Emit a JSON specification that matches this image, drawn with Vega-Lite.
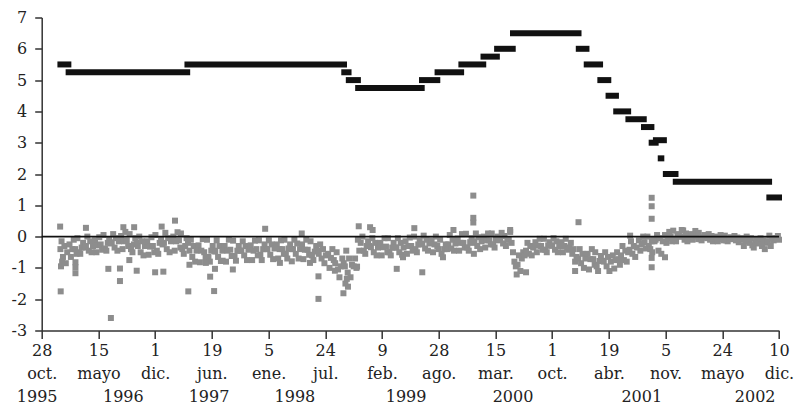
{
"$schema": "https://vega.github.io/schema/vega-lite/v6.json",
"width": 737.3,
"height": 313,
"autosize": {"type": "none"},
"padding": {"left": 41.7, "top": 17.5, "right": 19, "bottom": 82.5},
"config": {"view": {"stroke": null}, "font": "DejaVu Serif", "axisY": {"labelOverlap": false}, "axisX": {"labelOverlap": false}, "axis": {"labelOverlap": false}},
"datasets": {
"rate": [
{"start":"1996-01-02","end":"1996-01-30","rate":5.5},
{"start":"1996-01-31","end":"1997-03-24","rate":5.25},
{"start":"1997-03-25","end":"1998-09-28","rate":5.5},
{"start":"1998-09-29","end":"1998-10-14","rate":5.25},
{"start":"1998-10-15","end":"1998-11-16","rate":5.0},
{"start":"1998-11-17","end":"1999-06-29","rate":4.75},
{"start":"1999-06-30","end":"1999-08-23","rate":5.0},
{"start":"1999-08-24","end":"1999-11-15","rate":5.25},
{"start":"1999-11-16","end":"2000-02-01","rate":5.5},
{"start":"2000-02-02","end":"2000-03-20","rate":5.75},
{"start":"2000-03-21","end":"2000-05-15","rate":6.0},
{"start":"2000-05-16","end":"2001-01-02","rate":6.5},
{"start":"2001-01-03","end":"2001-01-30","rate":6.0},
{"start":"2001-01-31","end":"2001-03-19","rate":5.5},
{"start":"2001-03-20","end":"2001-04-17","rate":5.0},
{"start":"2001-04-18","end":"2001-05-14","rate":4.5},
{"start":"2001-05-15","end":"2001-06-26","rate":4.0},
{"start":"2001-06-27","end":"2001-08-20","rate":3.75},
{"start":"2001-08-21","end":"2001-09-16","rate":3.5},
{"start":"2001-09-17","end":"2001-10-01","rate":3.0},
{"start":"2001-10-02","end":"2001-10-30","rate":3.08},
{"start":"2001-10-19","end":"2001-10-21","rate":2.5},
{"start":"2001-11-06","end":"2001-12-10","rate":2.0},
{"start":"2001-12-11","end":"2002-11-05","rate":1.75},
{"start":"2002-11-06","end":"2002-12-10","rate":1.25}
],
"years": [
{"date":"1995-10-12","year":"1995"},
{"date":"1996-08-11","year":"1996"},
{"date":"1997-06-09","year":"1997"},
{"date":"1998-04-08","year":"1998"},
{"date":"1999-05-05","year":"1999"},
{"date":"2000-05-16","year":"2000"},
{"date":"2001-08-13","year":"2001"},
{"date":"2002-09-17","year":"2002"}
],
"obs": [
{"date":"1996-01-02","value":-0.4},{"date":"1996-01-06","value":-0.15},{"date":"1996-01-11","value":-0.65},{"date":"1996-01-16","value":-0.3},{"date":"1996-01-21","value":-0.85},{"date":"1996-01-26","value":-0.5},
{"date":"1996-02-03","value":-0.25},{"date":"1996-02-08","value":-0.65},{"date":"1996-02-13","value":-0.4},{"date":"1996-02-18","value":-0.1},{"date":"1996-02-23","value":-0.4},{"date":"1996-02-28","value":-0.55},
{"date":"1996-03-02","value":-0.05},{"date":"1996-03-07","value":-0.5},{"date":"1996-03-12","value":-0.55},{"date":"1996-03-17","value":-0.35},{"date":"1996-03-22","value":-0.2},{"date":"1996-03-27","value":-0.35},
{"date":"1996-04-01","value":-0.3},{"date":"1996-04-06","value":0},{"date":"1996-04-11","value":-0.45},{"date":"1996-04-16","value":-0.15},{"date":"1996-04-21","value":-0.5},{"date":"1996-04-26","value":-0.3},
{"date":"1996-05-03","value":-0.12},{"date":"1996-05-08","value":-0.5},{"date":"1996-05-13","value":-0.28},{"date":"1996-05-18","value":-0.02},{"date":"1996-05-23","value":-0.25},{"date":"1996-05-28","value":-0.42},
{"date":"1996-06-02","value":0.05},{"date":"1996-06-07","value":-0.38},{"date":"1996-06-12","value":-0.45},{"date":"1996-06-17","value":-0.2},{"date":"1996-06-22","value":-0.08},{"date":"1996-06-27","value":-0.22},
{"date":"1996-07-01","value":-0.18},{"date":"1996-07-06","value":0.08},{"date":"1996-07-11","value":-0.35},{"date":"1996-07-16","value":-0.05},{"date":"1996-07-21","value":-0.45},{"date":"1996-07-26","value":-0.15},
{"date":"1996-08-03","value":0.02},{"date":"1996-08-08","value":-0.4},{"date":"1996-08-13","value":-0.15},{"date":"1996-08-18","value":0.15},{"date":"1996-08-23","value":-0.12},{"date":"1996-08-28","value":-0.3},
{"date":"1996-09-02","value":0.08},{"date":"1996-09-07","value":-0.4},{"date":"1996-09-12","value":-0.5},{"date":"1996-09-17","value":-0.25},{"date":"1996-09-22","value":-0.05},{"date":"1996-09-27","value":-0.2},
{"date":"1996-10-01","value":-0.3},{"date":"1996-10-06","value":0},{"date":"1996-10-11","value":-0.5},{"date":"1996-10-16","value":-0.15},{"date":"1996-10-21","value":-0.6},{"date":"1996-10-26","value":-0.3},
{"date":"1996-11-03","value":-0.15},{"date":"1996-11-08","value":-0.58},{"date":"1996-11-13","value":-0.32},{"date":"1996-11-18","value":-0.02},{"date":"1996-11-23","value":-0.3},{"date":"1996-11-28","value":-0.5},
{"date":"1996-12-02","value":0.05},{"date":"1996-12-07","value":-0.45},{"date":"1996-12-12","value":-0.55},{"date":"1996-12-17","value":-0.2},{"date":"1996-12-22","value":-0.1},{"date":"1996-12-27","value":-0.25},
{"date":"1997-01-01","value":-0.2},{"date":"1997-01-06","value":0.12},{"date":"1997-01-11","value":-0.4},{"date":"1997-01-16","value":-0.05},{"date":"1997-01-21","value":-0.5},{"date":"1997-01-26","value":-0.15},
{"date":"1997-02-03","value":0},{"date":"1997-02-08","value":-0.45},{"date":"1997-02-13","value":-0.15},{"date":"1997-02-18","value":0.14},{"date":"1997-02-23","value":-0.12},{"date":"1997-02-28","value":-0.35},
{"date":"1997-03-02","value":0.1},{"date":"1997-03-07","value":-0.4},{"date":"1997-03-12","value":-0.55},{"date":"1997-03-17","value":-0.3},{"date":"1997-03-22","value":-0.05},{"date":"1997-03-27","value":-0.2},
{"date":"1997-04-01","value":-0.45},{"date":"1997-04-06","value":-0.1},{"date":"1997-04-11","value":-0.65},{"date":"1997-04-16","value":-0.3},{"date":"1997-04-21","value":-0.8},{"date":"1997-04-26","value":-0.45},
{"date":"1997-05-03","value":-0.28},{"date":"1997-05-08","value":-0.82},{"date":"1997-05-13","value":-0.45},{"date":"1997-05-18","value":-0.08},{"date":"1997-05-23","value":-0.5},{"date":"1997-05-28","value":-0.68},
{"date":"1997-06-02","value":-0.1},{"date":"1997-06-07","value":-0.65},{"date":"1997-06-12","value":-0.8},{"date":"1997-06-17","value":-0.45},{"date":"1997-06-22","value":-0.3},{"date":"1997-06-27","value":-0.45},
{"date":"1997-07-01","value":-0.48},{"date":"1997-07-06","value":-0.12},{"date":"1997-07-11","value":-0.65},{"date":"1997-07-16","value":-0.3},{"date":"1997-07-21","value":-0.78},{"date":"1997-07-26","value":-0.45},
{"date":"1997-08-03","value":-0.3},{"date":"1997-08-08","value":-0.8},{"date":"1997-08-13","value":-0.45},{"date":"1997-08-18","value":-0.1},{"date":"1997-08-23","value":-0.42},{"date":"1997-08-28","value":-0.62},
{"date":"1997-09-02","value":-0.13},{"date":"1997-09-07","value":-0.62},{"date":"1997-09-12","value":-0.77},{"date":"1997-09-17","value":-0.45},{"date":"1997-09-22","value":-0.3},{"date":"1997-09-27","value":-0.45},
{"date":"1997-10-01","value":-0.45},{"date":"1997-10-06","value":-0.15},{"date":"1997-10-11","value":-0.6},{"date":"1997-10-16","value":-0.3},{"date":"1997-10-21","value":-0.75},{"date":"1997-10-26","value":-0.42},
{"date":"1997-11-03","value":-0.28},{"date":"1997-11-08","value":-0.75},{"date":"1997-11-13","value":-0.45},{"date":"1997-11-18","value":-0.13},{"date":"1997-11-23","value":-0.4},{"date":"1997-11-28","value":-0.6},
{"date":"1997-12-02","value":-0.12},{"date":"1997-12-07","value":-0.58},{"date":"1997-12-12","value":-0.75},{"date":"1997-12-17","value":-0.4},{"date":"1997-12-22","value":-0.25},{"date":"1997-12-27","value":-0.4},
{"date":"1998-01-01","value":-0.4},{"date":"1998-01-06","value":-0.12},{"date":"1998-01-11","value":-0.58},{"date":"1998-01-16","value":-0.25},{"date":"1998-01-21","value":-0.72},{"date":"1998-01-26","value":-0.38},
{"date":"1998-02-03","value":-0.25},{"date":"1998-02-08","value":-0.7},{"date":"1998-02-13","value":-0.4},{"date":"1998-02-18","value":-0.12},{"date":"1998-02-23","value":-0.4},{"date":"1998-02-28","value":-0.55},
{"date":"1998-03-02","value":-0.1},{"date":"1998-03-07","value":-0.55},{"date":"1998-03-12","value":-0.7},{"date":"1998-03-17","value":-0.38},{"date":"1998-03-22","value":-0.25},{"date":"1998-03-27","value":-0.4},
{"date":"1998-04-01","value":-0.4},{"date":"1998-04-06","value":-0.1},{"date":"1998-04-11","value":-0.55},{"date":"1998-04-16","value":-0.22},{"date":"1998-04-21","value":-0.7},{"date":"1998-04-26","value":-0.4},
{"date":"1998-05-03","value":-0.25},{"date":"1998-05-08","value":-0.72},{"date":"1998-05-13","value":-0.42},{"date":"1998-05-18","value":-0.1},{"date":"1998-05-23","value":-0.42},{"date":"1998-05-28","value":-0.58},
{"date":"1998-06-02","value":-0.15},{"date":"1998-06-07","value":-0.6},{"date":"1998-06-12","value":-0.75},{"date":"1998-06-17","value":-0.48},{"date":"1998-06-22","value":-0.3},{"date":"1998-06-27","value":-0.45},
{"date":"1998-07-01","value":-0.55},{"date":"1998-07-06","value":-0.25},{"date":"1998-07-11","value":-0.7},{"date":"1998-07-16","value":-0.4},{"date":"1998-07-21","value":-0.85},{"date":"1998-07-26","value":-0.6},
{"date":"1998-08-03","value":-0.55},{"date":"1998-08-08","value":-1.0},{"date":"1998-08-13","value":-0.68},{"date":"1998-08-18","value":-0.4},{"date":"1998-08-23","value":-0.75},{"date":"1998-08-28","value":-0.85},
{"date":"1998-09-02","value":-0.5},{"date":"1998-09-07","value":-1.05},{"date":"1998-09-12","value":-1.3},{"date":"1998-09-17","value":-0.95},{"date":"1998-09-22","value":-0.7},{"date":"1998-09-27","value":-0.85},
{"date":"1998-10-01","value":-0.95},{"date":"1998-10-06","value":-0.45},{"date":"1998-10-11","value":-1.15},{"date":"1998-10-16","value":-0.7},{"date":"1998-10-21","value":-1.3},{"date":"1998-10-26","value":-0.9},
{"date":"1998-11-01","value":-0.95},{"date":"1998-11-06","value":-0.7},{"date":"1998-11-11","value":-1.0},{"date":"1998-11-16","value":-0.1},{"date":"1998-11-21","value":-0.45},{"date":"1998-11-26","value":-0.2},
{"date":"1998-12-02","value":0},{"date":"1998-12-07","value":-0.45},{"date":"1998-12-12","value":-0.55},{"date":"1998-12-17","value":-0.3},{"date":"1998-12-22","value":-0.15},{"date":"1998-12-27","value":-0.3},
{"date":"1999-01-01","value":-0.34},{"date":"1999-01-06","value":-0.05},{"date":"1999-01-11","value":-0.5},{"date":"1999-01-16","value":-0.2},{"date":"1999-01-21","value":-0.6},{"date":"1999-01-26","value":-0.35},
{"date":"1999-02-03","value":-0.2},{"date":"1999-02-08","value":-0.6},{"date":"1999-02-13","value":-0.34},{"date":"1999-02-18","value":-0.05},{"date":"1999-02-23","value":-0.32},{"date":"1999-02-28","value":-0.5},
{"date":"1999-03-02","value":-0.05},{"date":"1999-03-07","value":-0.5},{"date":"1999-03-12","value":-0.6},{"date":"1999-03-17","value":-0.35},{"date":"1999-03-22","value":-0.2},{"date":"1999-03-27","value":-0.35},
{"date":"1999-04-01","value":-0.35},{"date":"1999-04-06","value":-0.05},{"date":"1999-04-11","value":-0.5},{"date":"1999-04-16","value":-0.2},{"date":"1999-04-21","value":-0.58},{"date":"1999-04-26","value":-0.35},
{"date":"1999-05-03","value":-0.15},{"date":"1999-05-08","value":-0.55},{"date":"1999-05-13","value":-0.3},{"date":"1999-05-18","value":-0.03},{"date":"1999-05-23","value":-0.3},{"date":"1999-05-28","value":-0.45},
{"date":"1999-06-02","value":0},{"date":"1999-06-07","value":-0.4},{"date":"1999-06-12","value":-0.5},{"date":"1999-06-17","value":-0.25},{"date":"1999-06-22","value":-0.12},{"date":"1999-06-27","value":-0.25},
{"date":"1999-07-01","value":-0.23},{"date":"1999-07-06","value":0.03},{"date":"1999-07-11","value":-0.38},{"date":"1999-07-16","value":-0.1},{"date":"1999-07-21","value":-0.45},{"date":"1999-07-26","value":-0.22},
{"date":"1999-08-03","value":-0.12},{"date":"1999-08-08","value":-0.5},{"date":"1999-08-13","value":-0.25},{"date":"1999-08-18","value":0},{"date":"1999-08-23","value":-0.3},{"date":"1999-08-28","value":-0.4},
{"date":"1999-09-02","value":-0.1},{"date":"1999-09-07","value":-0.55},{"date":"1999-09-12","value":-0.66},{"date":"1999-09-17","value":-0.4},{"date":"1999-09-22","value":-0.25},{"date":"1999-09-27","value":-0.4},
{"date":"1999-10-01","value":-0.25},{"date":"1999-10-06","value":0.05},{"date":"1999-10-11","value":-0.38},{"date":"1999-10-16","value":-0.1},{"date":"1999-10-21","value":-0.45},{"date":"1999-10-26","value":-0.22},
{"date":"1999-11-03","value":-0.06},{"date":"1999-11-08","value":-0.45},{"date":"1999-11-13","value":-0.2},{"date":"1999-11-18","value":0.08},{"date":"1999-11-23","value":-0.2},{"date":"1999-11-28","value":-0.35},
{"date":"1999-12-02","value":0.09},{"date":"1999-12-07","value":-0.35},{"date":"1999-12-12","value":-0.45},{"date":"1999-12-17","value":-0.18},{"date":"1999-12-22","value":-0.05},{"date":"1999-12-27","value":-0.2},
{"date":"2000-01-01","value":-0.15},{"date":"2000-01-06","value":0.1},{"date":"2000-01-11","value":-0.3},{"date":"2000-01-16","value":-0.02},{"date":"2000-01-21","value":-0.4},{"date":"2000-01-26","value":-0.15},
{"date":"2000-02-03","value":0},{"date":"2000-02-08","value":-0.35},{"date":"2000-02-13","value":-0.12},{"date":"2000-02-18","value":0.1},{"date":"2000-02-23","value":-0.12},{"date":"2000-02-28","value":-0.25},
{"date":"2000-03-02","value":0.1},{"date":"2000-03-07","value":-0.25},{"date":"2000-03-12","value":-0.35},{"date":"2000-03-17","value":-0.1},{"date":"2000-03-22","value":0},{"date":"2000-03-27","value":-0.12},
{"date":"2000-04-01","value":-0.1},{"date":"2000-04-06","value":0.12},{"date":"2000-04-11","value":-0.22},{"date":"2000-04-16","value":0.02},{"date":"2000-04-21","value":-0.3},{"date":"2000-04-26","value":-0.1},
{"date":"2000-05-01","value":-0.1},{"date":"2000-05-06","value":0.15},{"date":"2000-05-11","value":-0.2},{"date":"2000-05-16","value":-0.5},{"date":"2000-05-21","value":-0.8},{"date":"2000-05-26","value":-0.95},
{"date":"2000-06-01","value":-0.9},{"date":"2000-06-06","value":-0.6},{"date":"2000-06-11","value":-1.1},{"date":"2000-06-16","value":-0.7},{"date":"2000-06-21","value":-0.5},{"date":"2000-06-26","value":-0.6},
{"date":"2000-07-01","value":-0.45},{"date":"2000-07-06","value":-0.2},{"date":"2000-07-11","value":-0.55},{"date":"2000-07-16","value":-0.3},{"date":"2000-07-21","value":-0.6},{"date":"2000-07-26","value":-0.35},
{"date":"2000-08-03","value":-0.18},{"date":"2000-08-08","value":-0.5},{"date":"2000-08-13","value":-0.29},{"date":"2000-08-18","value":-0.07},{"date":"2000-08-23","value":-0.3},{"date":"2000-08-28","value":-0.42},
{"date":"2000-09-02","value":-0.07},{"date":"2000-09-07","value":-0.42},{"date":"2000-09-12","value":-0.5},{"date":"2000-09-17","value":-0.28},{"date":"2000-09-22","value":-0.18},{"date":"2000-09-27","value":-0.29},
{"date":"2000-10-01","value":-0.29},{"date":"2000-10-06","value":-0.05},{"date":"2000-10-11","value":-0.42},{"date":"2000-10-16","value":-0.15},{"date":"2000-10-21","value":-0.5},{"date":"2000-10-26","value":-0.3},
{"date":"2000-11-03","value":-0.18},{"date":"2000-11-08","value":-0.5},{"date":"2000-11-13","value":-0.3},{"date":"2000-11-18","value":-0.07},{"date":"2000-11-23","value":-0.35},{"date":"2000-11-28","value":-0.42},
{"date":"2000-12-01","value":-0.35},{"date":"2000-12-06","value":-0.2},{"date":"2000-12-11","value":-0.55},{"date":"2000-12-16","value":-0.4},{"date":"2000-12-21","value":-0.8},{"date":"2000-12-26","value":-0.65},
{"date":"2001-01-01","value":-0.7},{"date":"2001-01-06","value":-0.4},{"date":"2001-01-11","value":-0.85},{"date":"2001-01-16","value":-0.55},{"date":"2001-01-21","value":-1.0},{"date":"2001-01-26","value":-0.7},
{"date":"2001-02-03","value":-0.55},{"date":"2001-02-08","value":-1.05},{"date":"2001-02-13","value":-0.72},{"date":"2001-02-18","value":-0.4},{"date":"2001-02-23","value":-0.72},{"date":"2001-02-28","value":-0.9},
{"date":"2001-03-02","value":-0.5},{"date":"2001-03-07","value":-0.95},{"date":"2001-03-12","value":-1.1},{"date":"2001-03-17","value":-0.78},{"date":"2001-03-22","value":-0.62},{"date":"2001-03-27","value":-0.77},
{"date":"2001-04-01","value":-0.8},{"date":"2001-04-06","value":-0.5},{"date":"2001-04-11","value":-0.95},{"date":"2001-04-16","value":-0.65},{"date":"2001-04-21","value":-1.1},{"date":"2001-04-26","value":-0.8},
{"date":"2001-05-03","value":-0.6},{"date":"2001-05-08","value":-1.02},{"date":"2001-05-13","value":-0.75},{"date":"2001-05-18","value":-0.5},{"date":"2001-05-23","value":-0.72},{"date":"2001-05-28","value":-0.9},
{"date":"2001-06-01","value":-0.6},{"date":"2001-06-06","value":-0.3},{"date":"2001-06-11","value":-0.75},{"date":"2001-06-16","value":-0.45},{"date":"2001-06-21","value":-0.8},{"date":"2001-06-26","value":-0.5},
{"date":"2001-07-01","value":-0.42},{"date":"2001-07-06","value":-0.15},{"date":"2001-07-11","value":-0.55},{"date":"2001-07-16","value":-0.3},{"date":"2001-07-21","value":-0.65},{"date":"2001-07-26","value":-0.35},
{"date":"2001-08-03","value":-0.12},{"date":"2001-08-08","value":-0.45},{"date":"2001-08-13","value":-0.25},{"date":"2001-08-18","value":0},{"date":"2001-08-23","value":-0.18},{"date":"2001-08-28","value":-0.38},
{"date":"2001-09-02","value":0},{"date":"2001-09-07","value":-0.3},{"date":"2001-09-12","value":-0.4},{"date":"2001-09-17","value":-0.15},{"date":"2001-09-22","value":-0.08},{"date":"2001-09-27","value":-0.15},
{"date":"2001-10-01","value":-0.1},{"date":"2001-10-06","value":0.05},{"date":"2001-10-11","value":-0.45},{"date":"2001-10-16","value":-0.05},{"date":"2001-10-21","value":-0.55},{"date":"2001-10-26","value":-0.15},
{"date":"2001-11-03","value":0.05},{"date":"2001-11-08","value":-0.2},{"date":"2001-11-13","value":-0.05},{"date":"2001-11-18","value":0.15},{"date":"2001-11-23","value":0},{"date":"2001-11-28","value":-0.15},
{"date":"2001-12-02","value":0.19},{"date":"2001-12-07","value":-0.1},{"date":"2001-12-12","value":-0.15},{"date":"2001-12-17","value":0.02},{"date":"2001-12-22","value":0.08},{"date":"2001-12-27","value":0},
{"date":"2002-01-01","value":0},{"date":"2002-01-06","value":0.2},{"date":"2002-01-11","value":-0.1},{"date":"2002-01-16","value":0.1},{"date":"2002-01-21","value":-0.15},{"date":"2002-01-26","value":0.02},
{"date":"2002-02-03","value":0.08},{"date":"2002-02-08","value":-0.1},{"date":"2002-02-13","value":0.02},{"date":"2002-02-18","value":0.18},{"date":"2002-02-23","value":0},{"date":"2002-02-28","value":-0.08},
{"date":"2002-03-02","value":0.12},{"date":"2002-03-07","value":-0.08},{"date":"2002-03-12","value":-0.12},{"date":"2002-03-17","value":-0.02},{"date":"2002-03-22","value":0.05},{"date":"2002-03-27","value":-0.02},
{"date":"2002-04-01","value":-0.05},{"date":"2002-04-06","value":0.08},{"date":"2002-04-11","value":-0.1},{"date":"2002-04-16","value":0.02},{"date":"2002-04-21","value":-0.15},{"date":"2002-04-26","value":-0.05},
{"date":"2002-05-03","value":0},{"date":"2002-05-08","value":-0.15},{"date":"2002-05-13","value":-0.07},{"date":"2002-05-18","value":0.05},{"date":"2002-05-23","value":-0.07},{"date":"2002-05-28","value":-0.12},
{"date":"2002-06-02","value":0.03},{"date":"2002-06-07","value":-0.12},{"date":"2002-06-12","value":-0.15},{"date":"2002-06-17","value":-0.08},{"date":"2002-06-22","value":-0.02},{"date":"2002-06-27","value":-0.07},
{"date":"2002-07-01","value":-0.08},{"date":"2002-07-06","value":0.02},{"date":"2002-07-11","value":-0.12},{"date":"2002-07-16","value":-0.03},{"date":"2002-07-21","value":-0.18},{"date":"2002-07-26","value":-0.1},
{"date":"2002-08-03","value":-0.05},{"date":"2002-08-08","value":-0.3},{"date":"2002-08-13","value":-0.12},{"date":"2002-08-18","value":0},{"date":"2002-08-23","value":-0.15},{"date":"2002-08-28","value":-0.2},
{"date":"2002-09-02","value":-0.05},{"date":"2002-09-07","value":-0.28},{"date":"2002-09-12","value":-0.35},{"date":"2002-09-17","value":-0.2},{"date":"2002-09-22","value":-0.1},{"date":"2002-09-27","value":-0.2},
{"date":"2002-10-01","value":-0.22},{"date":"2002-10-06","value":-0.05},{"date":"2002-10-11","value":-0.3},{"date":"2002-10-16","value":-0.12},{"date":"2002-10-21","value":-0.4},{"date":"2002-10-26","value":-0.2},
{"date":"2002-11-01","value":-0.15},{"date":"2002-11-06","value":0.03},{"date":"2002-11-11","value":-0.3},{"date":"2002-11-16","value":-0.05},{"date":"2002-11-21","value":-0.12},{"date":"2002-11-26","value":-0.08},
{"date":"2002-12-01","value":-0.05},{"date":"2002-12-06","value":0.02},{"date":"2002-12-10","value":-0.1},
{"date":"1996-01-01","value":0.32},{"date":"1996-01-03","value":-1.75},{"date":"1996-01-04","value":-0.95},{"date":"1996-01-08","value":-0.8},
{"date":"1996-02-24","value":-0.82},{"date":"1996-02-24","value":-0.98},{"date":"1996-02-24","value":-1.17},
{"date":"1996-04-01","value":0.28},{"date":"1996-06-19","value":-1.03},{"date":"1996-06-28","value":-2.6},
{"date":"1996-07-30","value":-1.02},{"date":"1996-07-30","value":-1.42},{"date":"1996-08-11","value":0.3},
{"date":"1996-09-01","value":-0.75},{"date":"1996-09-18","value":0.3},{"date":"1996-09-27","value":-1.09},
{"date":"1996-12-01","value":-1.14},{"date":"1996-12-24","value":0.32},{"date":"1996-12-30","value":-1.12},
{"date":"1997-02-09","value":0.51},{"date":"1997-04-01","value":-0.9},{"date":"1997-03-28","value":-1.75},
{"date":"1997-05-29","value":-0.84},{"date":"1997-06-13","value":-1.28},{"date":"1997-06-27","value":-1.74},{"date":"1997-06-30","value":-1.03},
{"date":"1997-07-27","value":-0.77},{"date":"1997-09-01","value":-1.05},{"date":"1997-12-24","value":0.25},
{"date":"1998-02-14","value":-0.84},{"date":"1998-03-28","value":-0.79},{"date":"1998-05-02","value":0.1},{"date":"1998-05-31","value":-0.84},
{"date":"1998-06-30","value":-1.27},{"date":"1998-06-30","value":-1.99},{"date":"1998-08-27","value":-1.09},
{"date":"1998-09-26","value":-1.81},{"date":"1998-10-03","value":-1.5},{"date":"1998-10-08","value":-1.35},{"date":"1998-10-12","value":-1.6},
{"date":"1998-11-13","value":-0.96},{"date":"1998-11-19","value":0.33},{"date":"1998-12-29","value":0.3},{"date":"1999-01-07","value":0.21},
{"date":"1999-04-02","value":-1.03},{"date":"1999-04-24","value":-0.66},{"date":"1999-06-03","value":0.27},{"date":"1999-07-01","value":-1.14},
{"date":"1999-10-19","value":0.21},{"date":"1999-12-28","value":1.31},{"date":"1999-12-28","value":0.6},{"date":"1999-12-28","value":0.45},{"date":"1999-12-30","value":-0.55},
{"date":"2000-05-06","value":0.21},{"date":"2000-05-29","value":-1.21},{"date":"2000-07-01","value":-1.14},{"date":"2000-12-21","value":-1.1},
{"date":"2001-01-02","value":0.46},{"date":"2001-07-03","value":0.03},
{"date":"2001-09-17","value":1.24},{"date":"2001-09-17","value":0.97},{"date":"2001-09-17","value":0.57},{"date":"2001-09-17","value":-0.68},{"date":"2001-09-17","value":-0.98},{"date":"2001-09-19","value":-0.5},
{"date":"2001-11-03","value":-0.66},{"date":"2002-01-01","value":0.21}
]
},
"layer": [
{
"data": {"name": "obs"},
"mark": {"type": "point", "shape": "square", "filled": true, "size": 36, "color": "#8d8d8d", "opacity": 1},
"encoding": {
"x": {"field": "date", "type": "temporal", "title": null,
"scale": {"type": "utc", "nice": false, "domain": [{"year": 1995, "month": 10, "date": 28, "utc": true}, {"year": 2002, "month": 12, "date": 10, "utc": true}]},
"axis": {
"values": [
{"year": 1995, "month": 10, "date": 28, "utc": true},
{"year": 1996, "month": 5, "date": 15, "utc": true},
{"year": 1996, "month": 12, "date": 1, "utc": true},
{"year": 1997, "month": 6, "date": 19, "utc": true},
{"year": 1998, "month": 1, "date": 5, "utc": true},
{"year": 1998, "month": 7, "date": 24, "utc": true},
{"year": 1999, "month": 2, "date": 9, "utc": true},
{"year": 1999, "month": 8, "date": 28, "utc": true},
{"year": 2000, "month": 3, "date": 15, "utc": true},
{"year": 2000, "month": 10, "date": 1, "utc": true},
{"year": 2001, "month": 4, "date": 19, "utc": true},
{"year": 2001, "month": 11, "date": 5, "utc": true},
{"year": 2002, "month": 5, "date": 24, "utc": true},
{"year": 2002, "month": 12, "date": 10, "utc": true}
],
"labelExpr": "['' + utcdate(datum.value), ['ene.','feb.','mar.','abr.','mayo','jun.','jul.','ago.','sep.','oct.','nov.','dic.'][utcmonth(datum.value)]]",
"labelFont": "DejaVu Serif", "labelFontSize": 16, "labelColor": "#222", "labelLineHeight": 23,
"labelPadding": 4, "labelFlush": false, "labelOverlap": false, "labelBound": false,
"tickSize": 8, "tickWidth": 1.5, "tickColor": "#333", "domainColor": "#333", "domainWidth": 1.5, "grid": false, "title": null
}
},
"y": {"field": "value", "type": "quantitative", "title": null,
"scale": {"domain": [-3, 7], "nice": false, "zero": false},
"axis": {
"tickCount": 10,
"labelExpr": "'' + datum.value",
"labelFont": "DejaVu Serif", "labelFontSize": 16, "labelColor": "#222", "labelPadding": 8,
"labelOverlap": false, "labelBound": false, "labelFlush": false,
"tickSize": 7, "tickWidth": 1.5, "tickColor": "#333", "domainColor": "#333", "domainWidth": 1.5, "grid": false, "title": null
}
}
}
},
{
"data": {"name": "rate"},
"mark": {"type": "rule", "strokeWidth": 6, "strokeCap": "square", "color": "#111"},
"encoding": {
"x": {"field": "start", "type": "temporal", "title": null},
"x2": {"field": "end"},
"y": {"field": "rate", "type": "quantitative", "title": null}
}
},
{
"data": {"values": [{}]},
"mark": {"type": "rule", "color": "#111", "strokeWidth": 1.6},
"encoding": {"y": {"datum": 0}}
},
{
"data": {"name": "years"},
"mark": {"type": "text", "baseline": "alphabetic", "dy": 71, "fontSize": 16, "font": "DejaVu Serif", "color": "#222"},
"encoding": {
"x": {"field": "date", "type": "temporal", "title": null},
"y": {"datum": -3},
"text": {"field": "year"}
}
}
]
}
